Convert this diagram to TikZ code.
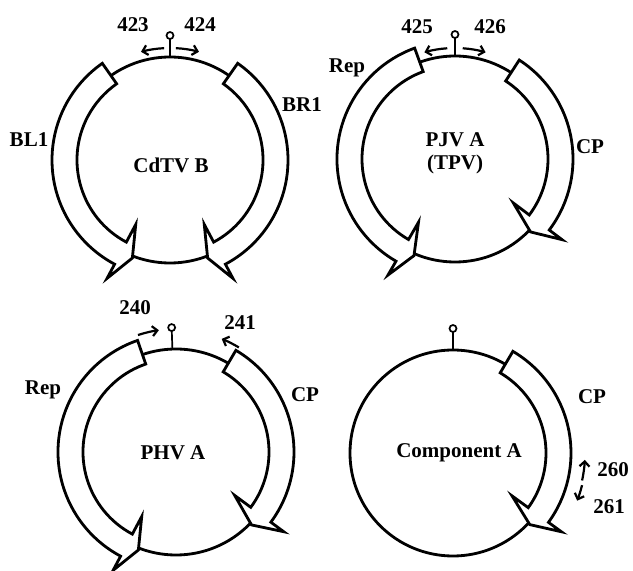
\documentclass[tikz,border=0pt]{standalone}
\usepackage{fontspec}
\setmainfont{Liberation Serif}
\usetikzlibrary{calc, arrows.meta}

\def\rad{103}
% gene arrow: centre, tail angle, back of head, tip angle
\newcommand{\genearrow}[4]{%
  \draw[gene] ($(#1)+({#2}:{\rad+15})$) arc[start angle={#2}, end angle={#3}, radius={\rad+15}]
    -- ($(#1)+({#3}:{\rad+31})$) -- ($(#1)+({#4}:{\rad+2})$)
    -- ($(#1)+({#3}:{\rad-30})$) -- ($(#1)+({#3}:{\rad-10})$)
    arc[start angle={#3}, end angle={#2}, radius={\rad-10}] -- cycle;}

\begin{document}
\begin{tikzpicture}[
    x=1pt, y=1pt,
    font=\fontsize{21}{23}\selectfont\bfseries,
    genome/.style={line width=2.8pt},
    gene/.style={line width=2.8pt, fill=white, line join=miter},
    stem/.style={line width=1.7pt},
    site/.style={line width=2.2pt, -{Straight Barb[length=5pt, width=10pt]}},
    lbl/.style={inner sep=0pt, align=center}
]
\useasboundingbox (0,0) rectangle (633,571);

% genome centres
\coordinate (cdtv) at (170,411);
\coordinate (pjv) at (455,412);
\coordinate (phv) at (176,119);
\coordinate (compA) at (453,118);

\foreach \c in {cdtv, pjv, phv, compA}
  \draw[genome] (\c) circle[radius=\rad];

% stem-loops
\foreach \c/\a in {cdtv/90, pjv/90, phv/92, compA/90} {
  \draw[stem] ($(\c)+(\a:\rad)$) -- ($(\c)+(\a:\rad+18)$);
  \draw[stem, fill=white] ($(\c)+(\a:\rad+21.5)$) circle[radius=3.5];
}

% open reading frames
\genearrow{cdtv}{125}{242}{249}
\genearrow{cdtv}{55}{-62}{-69}
\genearrow{pjv}{110}{240}{247}
\genearrow{pjv}{57}{-37}{-44}
\genearrow{phv}{109}{242}{249}
\genearrow{phv}{59.5}{-36.5}{-44}
\genearrow{compA}{59.5}{-36}{-43}

% primer positions
\draw[site] ($(cdtv)+(93:\rad+9)$) arc[start angle=93, end angle=105, radius=\rad+9];
\draw[site] ($(cdtv)+(87:\rad+9)$) arc[start angle=87, end angle=75, radius=\rad+9];
\draw[site] ($(pjv)+(94:\rad+8)$) arc[start angle=94, end angle=106, radius=\rad+8];
\draw[site] ($(pjv)+(86:\rad+8)$) arc[start angle=86, end angle=74, radius=\rad+8];
\draw[site] ($(phv)+(108:\rad+20)$) arc[start angle=108, end angle=98, radius=\rad+20];
\draw[site] ($(phv)+(59:\rad+19)$) arc[start angle=59, end angle=68, radius=\rad+19];
\draw[site] ($(compA)+(-12:\rad+29)$) arc[start angle=-12, end angle=-3, radius=\rad+29];
\draw[site] ($(compA)+(-14:\rad+30)$) arc[start angle=-14, end angle=-21, radius=\rad+30];

% labels
\node[lbl] (p423) at (133,546) {423};
\node[lbl] (p424) at (200,546) {424};
\node[lbl] (bl1) at (29,431) {BL1};
\node[lbl] (br1) at (302,466) {BR1};
\node[lbl] (cdtvName) at (171,406) {CdTV B};

\node[lbl] (p425) at (417,544) {425};
\node[lbl] (p426) at (490,544) {426};
\node[lbl] (pjvRep) at (347,503) {Rep};
\node[lbl] (pjvCP) at (590,424) {CP};
\node[lbl] (pjvName) at (455,418) {PJV A\\(TPV)};

\node[lbl] (p240) at (135,263) {240};
\node[lbl] (p241) at (240,248) {241};
\node[lbl] (phvRep) at (43,181) {Rep};
\node[lbl] (phvCP) at (305,176) {CP};
\node[lbl] (phvName) at (173,118) {PHV A};

\node[lbl] (compCP) at (592,174) {CP};
\node[lbl] (compName) at (459,118) {Component A};
\node[lbl] (p260) at (613,101) {260};
\node[lbl] (p261) at (609,64) {261};

\end{tikzpicture}
\end{document}
